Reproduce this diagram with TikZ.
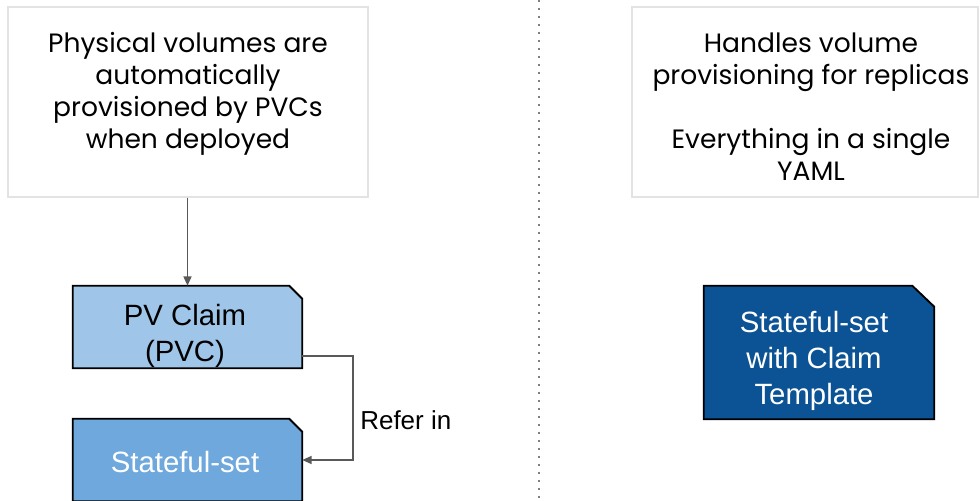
\documentclass[tikz,border=0pt]{standalone}
\usepackage{fontspec}
\setmainfont{Liberation Sans}
\newfontfamily\popfont{Poppins}
\usetikzlibrary{arrows.meta}
\definecolor{pvcfill}{HTML}{9FC5E8}
\definecolor{ssfill}{HTML}{6FA8DC}
\definecolor{sctfill}{HTML}{0B5394}
\definecolor{conn}{HTML}{595959}
\definecolor{noteborder}{HTML}{E3E3E3}
\tikzset{
  notebox/.style={draw=noteborder, line width=1pt, rectangle, inner sep=0pt},
  notetext/.style={font=\popfont\fontsize{19.9}{24}\selectfont, align=center, inner sep=0pt, text=black},
  frame/.style={rectangle, inner sep=0pt},
  chamfline/.style={draw=black, line width=1.4pt, line join=miter},
  shapetext/.style={align=center, inner sep=0pt, font=\fontsize{22}{27}\selectfont},
  conline/.style={draw=conn, line width=1.1pt, -{Triangle[length=7pt,width=6pt]}},
}
\newcommand{\chamfbox}[3]{% node, cut x, cut y
  (#1.south west) -- (#1.north west) -- ([xshift=-#2*0.75pt]#1.north east)
  -- ([yshift=-#3*0.75pt]#1.north east) -- (#1.south east) -- cycle}
\begin{document}
\begin{tikzpicture}[x=0.75pt,y=-0.75pt]
\useasboundingbox (0,0) rectangle (980,500);
\clip (0,0) rectangle (980,500);
% note boxes
\node[notebox, minimum width=360*0.75pt, minimum height=190*0.75pt] (n1) at (188,102) {};
\node[notetext] (t1) at (188,94) {Physical volumes are\\automatically\\provisioned by PVCs\\when deployed};
\node[notebox, minimum width=346*0.75pt, minimum height=190*0.75pt] (n2) at (805,102) {};
\node[notetext] (t2) at (811,107) {Handles volume\\provisioning for replicas\\[24pt]Everything in a single\\YAML};
% divider
\coordinate (dtop) at (539,0);
\coordinate (dbot) at (539,500);
\draw[gray, line width=1.5pt, dash pattern=on 1.5pt off 4.5pt] (dtop) -- (dbot);
% shapes
\node[frame, minimum width=229*0.75pt, minimum height=82*0.75pt] (pvc) at (187.5,327) {};
\path[chamfline, fill=pvcfill] \chamfbox{pvc}{13}{13};
\node[shapetext] (pvct) at (185,336) {PV Claim\\(PVC)};
\node[frame, minimum width=229*0.75pt, minimum height=82*0.75pt] (ss) at (187.5,460) {};
\path[chamfline, fill=ssfill] \chamfbox{ss}{13}{13};
\node[shapetext, text=white] (sst) at (185,462) {Stateful-set};
\node[frame, minimum width=230*0.75pt, minimum height=133*0.75pt] (sct) at (819,352.5) {};
\path[chamfline, fill=sctfill] \chamfbox{sct}{22}{21};
\node[shapetext, text=white] (sctt) at (814,361) {Stateful-set\\with Claim\\Template};
% connectors
\draw[conline] (n1.south -| pvc.north) -- (pvc.north);
\coordinate (bend) at (353,356);
\draw[conline] (pvc.east |- bend) -- (bend) -- (bend |- ss.east) -- (ss.east);
\node[anchor=west, font=\fontsize{19.5}{24}\selectfont, inner sep=0pt] (refer) at (360,420) {Refer in};
\end{tikzpicture}
\end{document}
